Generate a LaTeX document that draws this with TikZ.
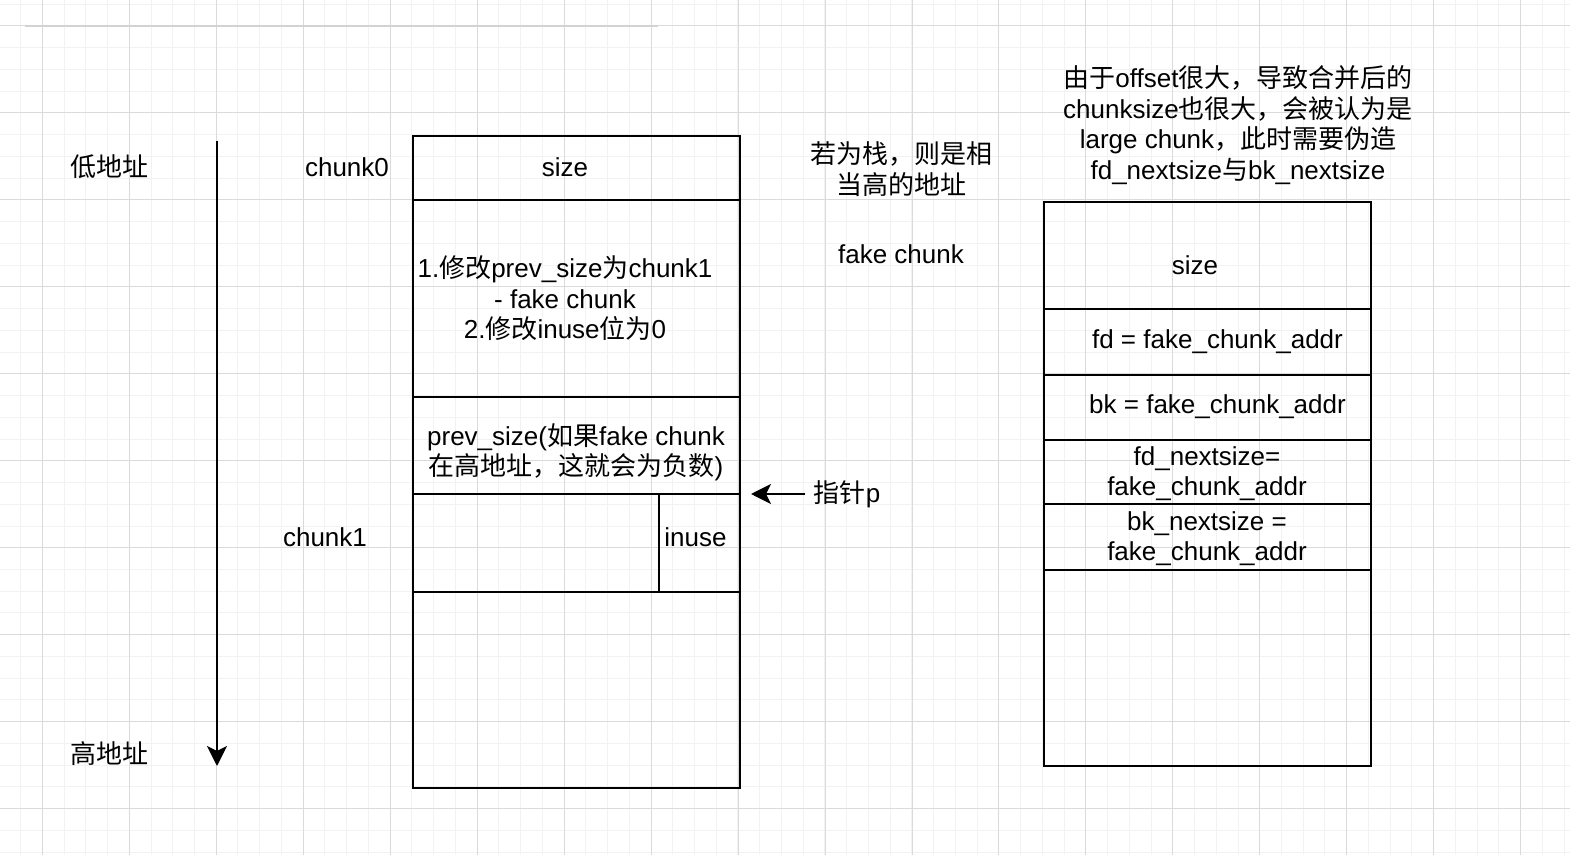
\documentclass[tikz,border=0pt]{standalone}
\usepackage{fontspec}
\setmainfont{Liberation Sans}
\newfontfamily\cjk{Noto Sans CJK SC}
\usetikzlibrary{arrows.meta}
\definecolor{gmaj}{RGB}{218,218,218}
\definecolor{gmin}{RGB}{242,242,242}
\definecolor{gtop}{RGB}{210,210,210}
\newcommand\dfont{\fontsize{13pt}{15.25pt}\selectfont}
\tikzset{
 cell/.style={draw=black, line width=1.15pt, inner sep=0pt, minimum width=163.3pt},
 txt/.style={font=\dfont, align=center, inner sep=0pt},
 arr/.style={line width=1.15pt, -{Stealth[length=10pt,width=10pt,inset=2.5pt]}},
}
\begin{document}
\begin{tikzpicture}[x=0.5pt,y=-0.5pt]
\fill[white] (0,0) rectangle (1570,855);
\useasboundingbox (0,0) rectangle (1570,855);
% grid
\foreach \i in {0,...,71} \draw[gmin, line width=0.5pt] ({20.56+21.74*\i},0) -- ({20.56+21.74*\i},855);
\foreach \i in {0,...,39} \draw[gmin, line width=0.5pt] (0,{4.26+21.74*\i}) -- (1570,{4.26+21.74*\i});
\foreach \i in {0,...,17} \draw[gmaj, line width=0.5pt] ({42.3+86.97*\i},0) -- ({42.3+86.97*\i},855);
\foreach \i in {0,...,9} \draw[gmaj, line width=0.5pt] (0,{26+86.97*\i}) -- (1570,{26+86.97*\i});
\draw[gtop, line width=1pt] (25,26) -- (658,26);

% left chunk
\node[cell, minimum height=32.3pt] (l1) at (576.6,168) {};
\node[cell, minimum height=98.2pt] (l2) at (576.6,298.5) {};
\node[cell, minimum height=48.8pt] (l3) at (576.6,445.5) {};
\node[cell, minimum width=122.85pt, minimum height=49pt] (l4a) at (536.15,543.3) {};
\node[cell, minimum width=40.5pt, minimum height=49pt] (l4b) at (699.5,543.3) {};
\node[cell, minimum height=97.7pt] (l5) at (576.6,690) {};

% right chunk
\node[cell, minimum height=53.8pt] (r1) at (1207.5,255.5) {};
\node[cell, minimum height=32.85pt] (r2) at (1207.5,342.2) {};
\node[cell, minimum height=32.5pt] (r3) at (1207.5,407.5) {};
\node[cell, minimum height=32.15pt] (r4) at (1207.5,472.2) {};
\node[cell, minimum height=33pt] (r5) at (1207.5,537.3) {};
\node[cell, minimum height=97.85pt] (r6) at (1207.5,668.2) {};

% texts
\node[txt] (tlow) at (109,167) {{\cjk 低地址}};
\node[txt] (thigh) at (109,754) {{\cjk 高地址}};
\node[txt] (tc0) at (347,167) {chunk0};
\node[txt] (tc1) at (325,537) {chunk1};
\node[txt] (ts1) at (565,167) {size};
\node[txt] (tm) at (565,298.5) {1.{\cjk 修改}prev\_size{\cjk 为}chunk1\\- fake chunk\\2.{\cjk 修改}inuse{\cjk 位为}0};
\node[txt] (tp) at (576,452.5) {prev\_size({\cjk 如果}fake chunk\\{\cjk 在高地址，这就会为负数})};
\node[txt] (tin) at (695.5,537) {inuse};
\node[txt] (tstack) at (901,169) {{\cjk 若为栈，则是相}\\{\cjk 当高的地址}};
\node[txt] (tfake) at (901,254) {fake chunk};
\node[txt] (tnote) at (1238,125) {{\cjk 由于}offset{\cjk 很大，导致合并后的}\\chunksize{\cjk 也很大，会被认为是}\\large chunk{\cjk ，此时需要伪造}\\fd\_nextsize{\cjk 与}bk\_nextsize};
\node[txt] (ts2) at (1195,265) {size};
\node[txt] (tfd) at (1217.5,342) {fd = fake\_chunk\_addr};
\node[txt] (tbk) at (1217.5,407) {bk = fake\_chunk\_addr};
\node[txt] (tfdn) at (1207,473.5) {fd\_nextsize=\\fake\_chunk\_addr};
\node[txt] (tbkn) at (1207,538.5) {bk\_nextsize =\\fake\_chunk\_addr};
\node[txt, inner sep=4pt] (tptr) at (847,494) {{\cjk 指针}p};

% arrows
\coordinate (atop) at (217,141);
\coordinate (abot) at (217,766);
\draw[arr] (atop) -- (abot);
\coordinate (ptip) at (751,494);
\draw[arr] (tptr.west) -- (ptip);
\end{tikzpicture}
\end{document}
